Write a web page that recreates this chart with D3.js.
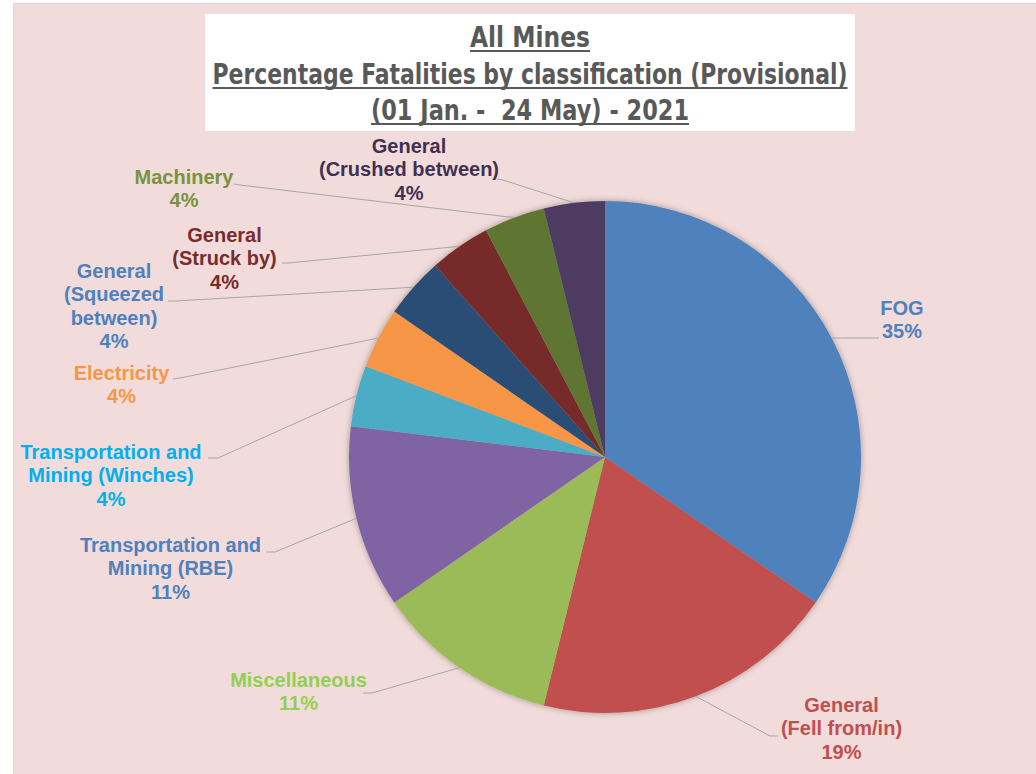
<!DOCTYPE html>
<html>
<head>
<meta charset="utf-8">
<script src="https://cdn.jsdelivr.net/npm/d3@7"></script>
<style>
  html, body { margin: 0; padding: 0; background: #ffffff; }
  svg { display: block; }
</style>
</head>
<body>
<svg id="chart" width="1036" height="774"></svg>
<script>
// ---------- data ----------
const categories = [
  "FOG", "General (Fell from/in)", "Miscellaneous", "Transportation and Mining (RBE)",
  "Transportation and Mining (Winches)", "Electricity", "General (Squeezed between)",
  "General (Struck by)", "Machinery", "General (Crushed between)"
];
const values = [9, 5, 3, 3, 1, 1, 1, 1, 1, 1];
const pctLabels = ["35%", "19%", "11%", "11%", "4%", "4%", "4%", "4%", "4%", "4%"];
const labelLines = [
  ["FOG"],
  ["General", "(Fell from/in)"],
  ["Miscellaneous"],
  ["Transportation and", "Mining (RBE)"],
  ["Transportation and", "Mining (Winches)"],
  ["Electricity"],
  ["General", "(Squeezed", "between)"],
  ["General", "(Struck by)"],
  ["Machinery"],
  ["General", "(Crushed between)"]
];
const titleLines = [
  "All Mines",
  "Percentage Fatalities by classification (Provisional)",
  "(01 Jan. -  24 May) - 2021"
];

// ---------- styles / layout ----------
const sliceColors = ["#4F81BD", "#C0504D", "#9BBB59", "#8064A2", "#4BACC6",
                     "#F79646", "#2C4D75", "#772C2A", "#5F7530", "#4D3B62"];
const labelColors = ["#4F81BD", "#C0504D", "#92D050", "#4F81BD", "#00B0F0",
                     "#F79646", "#4F81BD", "#772C2A", "#77933C", "#403152"];
// label centre x, first baseline y, leader elbow and end points
const labelLayout = [
  { x: 902,   y: 315,   elbow: [879, 338], end: [879, 338] },
  { x: 841.5, y: 712,   elbow: [770, 736], end: [778, 736] },
  { x: 298.5, y: 687,   elbow: [372, 693], end: [363, 693] },
  { x: 170.5, y: 552,   elbow: [275, 552], end: [266, 552] },
  { x: 111,   y: 459,   elbow: [218, 458], end: [208, 458] },
  { x: 121.5, y: 380,   elbow: [180, 378], end: [173, 379] },
  { x: 114,   y: 278,   elbow: [175, 301], end: [168, 301] },
  { x: 224.5, y: 242,   elbow: [288, 263], end: [282, 263] },
  { x: 184,   y: 184,   elbow: [240, 185], end: [234, 184] },
  { x: 409,   y: 153,   elbow: [503, 180], end: [497, 179] }
];
const titleWidths = [120, 635, 318];
const lineGap = 23.4;

const W = 1036, H = 774;
const cx = 605, cy = 457, R = 256;

const svg = d3.select("#chart");

// background
svg.append("rect").attr("x", 13).attr("y", 3).attr("width", W - 13).attr("height", H - 3)
  .attr("fill", "#F2DCDB");
svg.append("path").attr("d", `M13.5,${H} L13.5,3.5 L${W},3.5`)
  .attr("fill", "none").attr("stroke", "#D9D9D9").attr("stroke-width", 1);

// title box
svg.append("rect").attr("x", 205).attr("y", 14).attr("width", 650).attr("height", 117)
  .attr("fill", "#ffffff");

const titleG = svg.append("g");
const titleBase = [47, 84, 120];
titleLines.forEach((t, i) => {
  titleG.append("text")
    .attr("x", 530).attr("y", titleBase[i])
    .attr("text-anchor", "middle")
    .attr("font-family", "'Liberation Sans Narrow', 'DejaVu Sans Condensed', Lato, sans-serif")
    .attr("font-weight", "bold")
    .attr("font-size", 29)
    .attr("fill", "#595959")
    .attr("textLength", titleWidths[i])
    .attr("lengthAdjust", "spacingAndGlyphs")
    .style("white-space", "pre")
    .text(t);
  titleG.append("line")
    .attr("x1", 530 - titleWidths[i] / 2).attr("x2", 530 + titleWidths[i] / 2)
    .attr("y1", titleBase[i] + 4).attr("y2", titleBase[i] + 4)
    .attr("stroke", "#595959").attr("stroke-width", 2);
});

// shadow filter
const defs = svg.append("defs");
const f = defs.append("filter").attr("id", "pieShadow")
  .attr("x", "-10%").attr("y", "-10%").attr("width", "120%").attr("height", "120%");
f.append("feDropShadow").attr("dx", 0).attr("dy", 0).attr("stdDeviation", 3)
  .attr("flood-color", "#000").attr("flood-opacity", 0.35);

// pie
const pie = d3.pie().sort(null).value(d => d.v);
const data = values.map((v, i) => ({ v, i }));
const arcs = pie(data);
const arc = d3.arc().innerRadius(0).outerRadius(R);
const edgeArc = d3.arc().innerRadius(R).outerRadius(R);

const pieG = svg.append("g").attr("transform", `translate(${cx},${cy})`)
  .attr("filter", "url(#pieShadow)");
pieG.selectAll("path").data(arcs).enter().append("path")
  .attr("d", arc)
  .attr("fill", d => sliceColors[d.data.i]);

// leader lines
const leadG = svg.append("g");
arcs.forEach(a => {
  const i = a.data.i;
  const c = edgeArc.centroid(a);
  const p0 = [cx + c[0], cy + c[1]];
  const L = labelLayout[i];
  leadG.append("polyline")
    .attr("points", [p0, L.elbow, L.end].map(p => p.join(",")).join(" "))
    .attr("fill", "none").attr("stroke", "#A6A6A6").attr("stroke-width", 1);
});

// labels
const labG = svg.append("g");
arcs.forEach(a => {
  const i = a.data.i;
  const L = labelLayout[i];
  const lines = labelLines[i].concat([pctLabels[i]]);
  const t = labG.append("text")
    .attr("text-anchor", "middle")
    .attr("font-family", "'Liberation Sans', Arial, sans-serif")
    .attr("font-weight", "bold")
    .attr("font-size", 20)
    .attr("fill", labelColors[i]);
  lines.forEach((ln, k) => {
    t.append("tspan").attr("x", L.x).attr("y", L.y + k * lineGap).text(ln);
  });
});
</script>
</body>
</html>
